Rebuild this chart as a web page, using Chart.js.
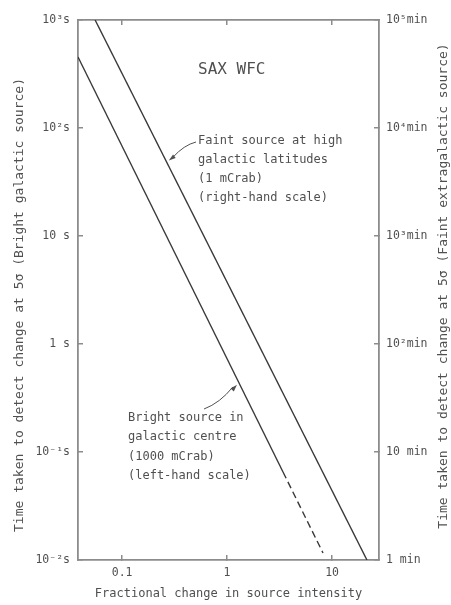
<!DOCTYPE html>
<html>
<head>
<meta charset="utf-8">
<script src="https://cdn.jsdelivr.net/npm/chart.js@4/dist/chart.umd.min.js"></script>
<style>
  html, body { margin: 0; padding: 0; background: #fff; }
  #wrap { width: 451px; height: 605px; }
</style>
</head>
<body>
<div id="wrap"><canvas id="myChart" width="451" height="605"></canvas></div>
<script>
// tick values and labels
var xTicks = [0.1, 1, 10];
var xTickLabels = ['0.1', '1', '10'];
var leftTicks = [0.01, 0.1, 1, 10, 100, 1000];
var leftTickLabels = ['10\u207B\u00B2s', '10\u207B\u00B9s', '1 s', '10 s', '10\u00B2s', '10\u00B3s'];
var rightTicks = [1, 10, 100, 1000, 10000, 100000];
var rightTickLabels = ['1 min', '10 min', '10\u00B2min', '10\u00B3min', '10\u2074min', '10\u2075min'];

// faint source, right-hand scale (min)
var faintX = [0.0553, 21.5];
var faintY = [100000, 1];
// bright source, left-hand scale (s), solid part then dashed part
var brightX = [0.038, 3.41];
var brightY = [454, 0.0653];
var brightDashX = [3.41, 8.2];
var brightDashY = [0.0653, 0.0116];

var textColor = '#505050';
var axisColor = '#8c8c8c';
var lineColor = '#383838';
var mono = '"DejaVu Sans Mono", monospace';

function pts(xs, ys) {
    return xs.map(function (x, i) { return { x: x, y: ys[i] }; });
}

function fixedTicks(vals) {
    return function (scale) {
        scale.ticks = vals.map(function (v) { return { value: v }; });
    };
}

function arrow(ctx, tip, from) {
    var a = Math.atan2(tip.y - from.y, tip.x - from.x);
    ctx.beginPath();
    ctx.moveTo(tip.x, tip.y);
    ctx.lineTo(tip.x - 7 * Math.cos(a) + 2.2 * Math.sin(a), tip.y - 7 * Math.sin(a) - 2.2 * Math.cos(a));
    ctx.lineTo(tip.x - 7 * Math.cos(a) - 2.2 * Math.sin(a), tip.y - 7 * Math.sin(a) + 2.2 * Math.cos(a));
    ctx.closePath();
    ctx.fill();
}

function along(meta, t) {
    var p0 = meta.data[0], p1 = meta.data[meta.data.length - 1];
    return { x: p0.x + (p1.x - p0.x) * t, y: p0.y + (p1.y - p0.y) * t };
}

var notes = {
    id: 'notes',
    afterDraw: function (chart) {
        var ctx = chart.ctx;
        ctx.save();
        ctx.fillStyle = textColor;
        ctx.strokeStyle = textColor;
        ctx.textBaseline = 'middle';

        // axis titles (both read bottom to top)
        ctx.font = '13px ' + mono;
        ctx.textAlign = 'center';
        ctx.save();
        ctx.translate(20, 305);
        ctx.rotate(-Math.PI / 2);
        ctx.fillText('Time taken to detect change at 5\u03C3 (Bright galactic source)', 0, 0);
        ctx.restore();
        ctx.save();
        ctx.translate(444, 286);
        ctx.rotate(-Math.PI / 2);
        ctx.fillText('Time taken to detect change at 5\u03C3 (Faint extragalactic source)', 0, 0);
        ctx.restore();

        // title inside plot
        ctx.textAlign = 'left';
        ctx.font = '16px ' + mono;
        ctx.fillText('SAX WFC', 198, 70);

        ctx.font = '12px ' + mono;
        ['Faint source at high', 'galactic latitudes', '(1 mCrab)', '(right-hand scale)']
            .forEach(function (s, i) { ctx.fillText(s, 198, 141 + i * 19); });
        ['Bright source in', 'galactic centre', '(1000 mCrab)', '(left-hand scale)']
            .forEach(function (s, i) { ctx.fillText(s, 128, 418 + i * 19.3); });

        // leaders
        ctx.lineWidth = 1;
        var tipF = along(chart.getDatasetMeta(0), 0.26);
        tipF.x += 3;
        ctx.beginPath();
        ctx.moveTo(196, 142);
        ctx.quadraticCurveTo(184, 145, tipF.x + 4, tipF.y - 3);
        ctx.stroke();
        arrow(ctx, tipF, { x: 184, y: 149 });

        var tipB = along(chart.getDatasetMeta(1), 0.79);
        tipB.x -= 3;
        ctx.beginPath();
        ctx.moveTo(204, 409);
        ctx.quadraticCurveTo(220, 403, tipB.x - 4, tipB.y + 2);
        ctx.stroke();
        arrow(ctx, tipB, { x: 222, y: 401 });
        ctx.restore();
    }
};

var grid = { drawOnChartArea: false, color: axisColor, tickLength: -5, lineWidth: 1.5 };
var border = { color: axisColor, width: 1.8 };
var tickFont = { family: mono, size: 11.5 };

var ctx = document.getElementById('myChart').getContext('2d');
var myChart = new Chart(ctx, {
    type: 'line',
    data: {
        datasets: [{
            data: pts(faintX, faintY),
            yAxisID: 'y2',
            borderColor: lineColor,
            borderWidth: 1.4,
            pointRadius: 0
        }, {
            data: pts(brightX, brightY),
            yAxisID: 'y',
            borderColor: lineColor,
            borderWidth: 1.4,
            pointRadius: 0
        }, {
            data: pts(brightDashX, brightDashY),
            yAxisID: 'y',
            borderColor: lineColor,
            borderWidth: 1.4,
            borderDash: [7, 4],
            pointRadius: 0
        }]
    },
    options: {
        responsive: false,
        animation: false,
        layout: { padding: { top: 20, left: 0, right: 0, bottom: 0 } },
        plugins: { legend: { display: false }, tooltip: { enabled: false } },
        scales: {
            x: {
                type: 'logarithmic', position: 'bottom', min: 0.038, max: 28,
                afterBuildTicks: fixedTicks(xTicks),
                afterFit: function (s) { s.height = 45; },
                grid: grid, border: border,
                ticks: {
                    color: textColor, font: tickFont, padding: 11, autoSkip: false, maxRotation: 0,
                    callback: function (v, i) { return xTickLabels[i]; }
                },
                title: {
                    display: true, text: 'Fractional change in source intensity',
                    color: textColor, font: { family: mono, size: 12 }, padding: { top: 0, bottom: 4 }
                }
            },
            x2: {
                type: 'logarithmic', position: 'top', min: 0.038, max: 28,
                afterBuildTicks: fixedTicks(xTicks),
                afterFit: function (s) { s.height = 0; },
                grid: grid, border: border,
                ticks: { display: false }
            },
            y: {
                type: 'logarithmic', position: 'left', min: 0.01, max: 1000,
                afterBuildTicks: fixedTicks(leftTicks),
                afterFit: function (s) { s.width = 78; },
                grid: grid, border: border,
                ticks: {
                    color: textColor, font: tickFont, padding: 13, autoSkip: false,
                    callback: function (v, i) { return leftTickLabels[i]; }
                }
            },
            y2: {
                type: 'logarithmic', position: 'right', min: 1, max: 100000,
                afterBuildTicks: fixedTicks(rightTicks),
                afterFit: function (s) { s.width = 72; },
                grid: grid, border: border,
                ticks: {
                    color: textColor, font: tickFont, padding: 12, autoSkip: false,
                    callback: function (v, i) { return rightTickLabels[i]; }
                }
            }
        }
    },
    plugins: [notes]
});
</script>
</body>
</html>
